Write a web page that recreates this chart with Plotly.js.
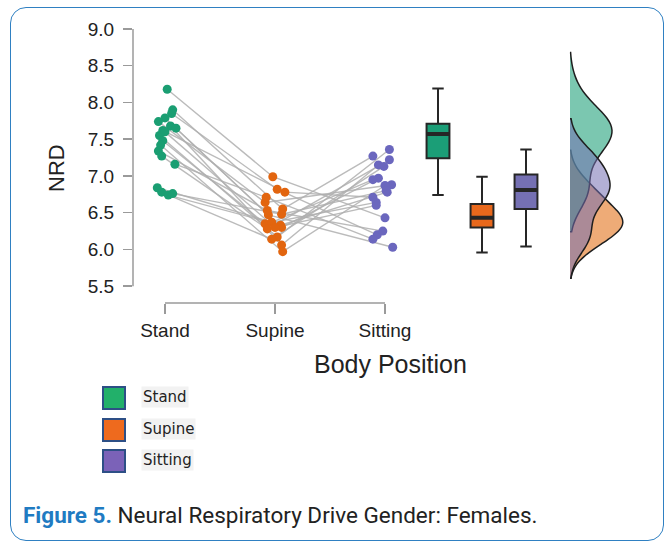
<!DOCTYPE html>
<html><head><meta charset="utf-8">
<script src="https://cdn.plot.ly/plotly-3.0.1.min.js"></script>
<style>
html,body{margin:0;padding:0;background:#fff;}
#wrap{position:relative;width:670px;height:544px;overflow:hidden;background:#fff;}
#chart{position:absolute;left:0;top:0;width:670px;height:544px;}
#frame{position:absolute;left:10px;top:7px;width:654px;height:534px;border:1.5px solid #2f80c2;border-radius:16px;box-sizing:border-box;pointer-events:none;}
</style></head><body>
<div id="wrap"><div id="chart"></div><div id="frame"></div></div>
<script>
// ---- data ----
const categories = ['Stand', 'Supine', 'Sitting'];
const standNRD   = [8.18, 7.90, 7.85, 7.79, 7.74, 7.68, 7.65, 7.62, 7.55, 7.48, 7.42, 7.34, 7.27, 7.16, 6.84, 6.78, 6.74, 6.76, 7.60];
const supineNRD  = [6.99, 6.55, 6.82, 6.30, 6.64, 6.06, 6.47, 6.78, 6.17, 6.35, 5.97, 6.53, 6.28, 6.71, 6.37, 6.14, 6.33, 6.48, 6.30];
const sittingNRD = [6.43, 7.27, 6.20, 6.97, 6.88, 7.15, 6.03, 6.71, 7.36, 6.64, 6.87, 6.25, 7.22, 6.14, 6.95, 7.13, 6.78, 6.80, 6.60];
// horizontal jitter of each dot (category units)
const standJitter   = [0.02, 0.07, 0.06, 0.00, -0.06, 0.05, 0.10, -0.02, -0.05, -0.02, -0.04, -0.06, -0.03, 0.09, -0.07, -0.03, 0.03, 0.07, 0.00];
const supineJitter  = [-0.02, 0.07, 0.02, 0.06, -0.09, 0.06, -0.06, 0.09, 0.02, -0.09, 0.07, -0.07, -0.07, -0.08, -0.03, -0.03, 0.05, 0.06, 0.00];
const sittingJitter = [0.00, -0.11, -0.07, -0.06, 0.06, -0.06, 0.07, -0.11, 0.04, -0.08, 0.00, -0.02, 0.04, -0.11, -0.11, -0.01, 0.02, 0.01, -0.08];
// box summary statistics (Stand, Supine, Sitting)
const boxLower  = [6.74, 5.96, 6.04];
const boxQ1     = [7.24, 6.30, 6.55];
const boxMedian = [7.57, 6.43, 6.81];
const boxQ3     = [7.71, 6.62, 7.02];
const boxUpper  = [8.19, 6.99, 7.36];
const yTicks = [5.5, 6.0, 6.5, 7.0, 7.5, 8.0, 8.5, 9.0];

// ---- styles ----
const dotColors  = ['#1a9e72', '#e2650f', '#6b67be'];
const boxColors  = ['#1b9e77', '#e8681c', '#7570b3'];
const densFill   = ['rgba(27,158,119,0.58)', 'rgba(226,110,20,0.58)', 'rgba(117,112,179,0.55)'];
const densBw     = [0.25, 0.18, 0.21];
const densWidth  = [1.05, 1.32, 1.0];
const legendFill = ['#22b06a', '#ee6a1e', '#7b62b8'];
const groups = [standNRD, supineNRD, sittingNRD];
const jitters = [standJitter, supineJitter, sittingJitter];

// pixel helpers for the layout (plot area: x 133..650, y 25..303)
const L = 133, R = 20, T = 25, B = 241, W = 670, H = 544;
const pw = W - L - R, ph = H - T - B;
const px = v => (v - L) / pw;
const py = v => (H - B - v) / ph;

const traces = [];
// connecting lines
const lx = [], ly = [];
for (let i = 0; i < standNRD.length; i++) {
  for (let g = 0; g < 3; g++) { lx.push(g + jitters[g][i]); ly.push(groups[g][i]); }
  lx.push(null); ly.push(null);
}
traces.push({type:'scatter', mode:'lines', x:lx, y:ly, xaxis:'x', yaxis:'y',
  line:{color:'rgba(175,175,175,0.85)', width:1.4}, hoverinfo:'skip', showlegend:false});
// dots
for (let g = 0; g < 3; g++) {
  traces.push({type:'scatter', mode:'markers', name:categories[g],
    x: groups[g].map((v, i) => g + jitters[g][i]), y: groups[g],
    xaxis:'x', yaxis:'y', marker:{color:dotColors[g], size:9}, showlegend:false, cliponaxis:false});
}
// boxes
for (let g = 0; g < 3; g++) {
  traces.push({type:'box', name:categories[g], xaxis:'x2', yaxis:'y', x:[g],
    q1:[boxQ1[g]], median:[boxMedian[g]], q3:[boxQ3[g]], lowerfence:[boxLower[g]], upperfence:[boxUpper[g]],
    fillcolor:boxColors[g], line:{color:'#262626', width:2}, width:0.52, whiskerwidth:0.5,
    boxpoints:false, showlegend:false});
}
// densities (half violins)
const densOrder = [1, 0, 2];
for (const g of densOrder) {
  traces.push({type:'violin', name:categories[g], xaxis:'x3', yaxis:'y', x0:0, y:groups[g],
    side:'positive', width:densWidth[g], bandwidth:densBw[g], spanmode:'soft', scalemode:'width',
    fillcolor:densFill[g], line:{color:'#1e1e1e', width:1.5}, points:false,
    box:{visible:false}, meanline:{visible:false}, showlegend:false, hoverinfo:'skip'});
}

const shapes = [];
// trimmed axis lines
shapes.push({type:'line', xref:'paper', yref:'y', x0:0, x1:0, y0:5.5, y1:9.0, line:{color:'#9a9a9a', width:1.5}});
shapes.push({type:'line', xref:'x', yref:'paper', x0:0, x1:2, y0:0, y1:0, line:{color:'#9a9a9a', width:1.5}});
// thick medians
for (let g = 0; g < 3; g++) {
  shapes.push({type:'line', xref:'x2', yref:'y', x0:g - 0.26, x1:g + 0.26, y0:boxMedian[g], y1:boxMedian[g],
    line:{color:'#262626', width:4}});
}
const annotations = [];
annotations.push({text:'NRD', xref:'paper', yref:'paper', x:px(56), y:py(168), xanchor:'center', yanchor:'middle',
  textangle:-90, showarrow:false, font:{family:'Liberation Sans, Arial, sans-serif', size:22, color:'#222'}});
annotations.push({text:'Body Position', xref:'paper', yref:'paper', x:px(390), y:py(364), xanchor:'center', yanchor:'middle',
  showarrow:false, font:{family:'Liberation Sans, Arial, sans-serif', size:25, color:'#222'}});
// legend
const legY = [398, 430, 461];
for (let g = 0; g < 3; g++) {
  shapes.push({type:'rect', xref:'paper', yref:'paper', x0:px(103), x1:px(125), y0:py(legY[g] - 11), y1:py(legY[g] + 11),
    fillcolor:legendFill[g], line:{color:'#2d4f86', width:2}});
  annotations.push({text:categories[g], xref:'paper', yref:'paper', x:px(141), y:py(legY[g] - 1), xanchor:'left', yanchor:'middle',
    showarrow:false, bgcolor:'#f2f2f2', borderpad:1,
    font:{family:'DejaVu Sans, sans-serif', size:15, color:'#222'}});
}
// caption
annotations.push({text:'<b><span style="color:#1f7bc2">Figure 5.</span></b> Neural Respiratory Drive Gender: Females.',
  xref:'paper', yref:'paper', x:px(21), y:py(515), xanchor:'left', yanchor:'middle', showarrow:false,
  font:{family:'Roboto, sans-serif', size:22.5, color:'#222'}});

const layout = {
  width:W, height:H, margin:{l:L, r:R, t:T, b:B}, paper_bgcolor:'rgba(0,0,0,0)', plot_bgcolor:'rgba(0,0,0,0)',
  showlegend:false, violinmode:'overlay',
  xaxis:{domain:[0, px(410)], range:[(L - 165) / 110, (410 - 165) / 110], tickvals:[0, 1, 2], ticktext:categories,
    ticks:'outside', ticklen:10, tickwidth:1.5, tickcolor:'#9a9a9a', showline:false, showgrid:false, zeroline:false,
    tickfont:{family:'Liberation Sans, Arial, sans-serif', size:19, color:'#222'}},
  xaxis2:{domain:[px(411.6), px(552.4)], range:[-0.6, 2.6], anchor:'y', visible:false},
  xaxis3:{domain:[px(562), 1], range:[-0.1, 1.0], anchor:'y', visible:false},
  yaxis:{range:[9.0 - (303 - 25) / 74.57, 9.0 + (29 - 25) / 74.57], tickvals:yTicks, tickformat:'.1f',
    ticks:'outside', ticklen:9, tickwidth:1.5, tickcolor:'#9a9a9a', showline:false, showgrid:false, zeroline:false,
    ticklabelstandoff:5,
    tickfont:{family:'Liberation Sans, Arial, sans-serif', size:19, color:'#222'}},
  shapes:shapes, annotations:annotations
};
Plotly.newPlot('chart', traces, layout, {staticPlot:true, displayModeBar:false});
</script>
</body></html>
